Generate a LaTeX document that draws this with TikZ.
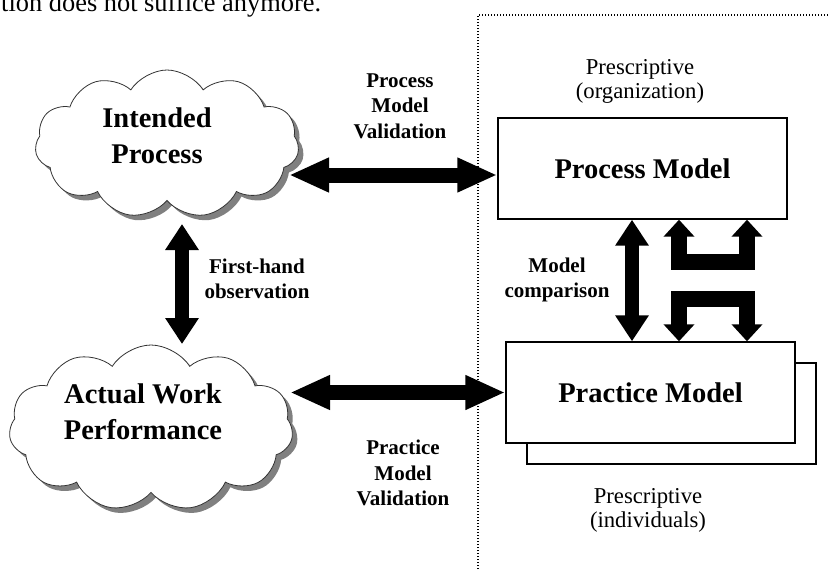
\documentclass[tikz,border=0pt]{standalone}
\usepackage{fontspec}
\setmainfont{Liberation Serif}
\usetikzlibrary{shapes.symbols,shadows,arrows.meta}
\begin{document}
\begin{tikzpicture}[x=1pt,y=-1pt,
  cloudnode/.style={cloud, cloud puffs=11, cloud puff arc=115, cloud ignores aspect,
    draw=black!80, line width=0.8pt, fill=white,
    drop shadow={shadow xshift=5pt, shadow yshift=-5pt, fill=black!50, opacity=1}},
  boxnode/.style={draw, line width=1.4pt, fill=white, minimum width=289pt,
    minimum height=101pt, inner sep=0pt},
  bigfont/.style={font=\bfseries\fontsize{28.5}{36}\selectfont, align=center},
  lblfont/.style={font=\bfseries\fontsize{21}{25.5}\selectfont, align=center},
  presc/.style={font=\fontsize{22.7}{24}\selectfont, align=center},
  harrow/.style={line width=15pt, {Triangle[length=40pt,width=32pt]}-{Triangle[length=40pt,width=32pt]}},
  varrow/.style={line width=14pt, {Triangle[length=26pt,width=32pt]}-{Triangle[length=26pt,width=32pt]}},
  uarrow/.style={line width=16pt, line join=miter, {Triangle[length=17pt,width=30pt]}-{Triangle[length=17pt,width=30pt]}},
  sepline/.style={line width=1.3pt, dash pattern=on 1.3pt off 1.7pt}
]
\useasboundingbox (0,0) rectangle (830,570);
\clip (0,0) rectangle (830,570);

% cropped body text line
\node[anchor=base west, font=\fontsize{26.4}{30}\selectfont, inner sep=0pt] (toptext) at (1,12) {tion does not suffice anymore.};

% separator
\coordinate (dA) at (478,575);
\coordinate (dB) at (840,15);
\draw[sepline] (dA) |- (dB);

% clouds
\node[cloudnode, minimum width=264pt, minimum height=148pt] (ip) at (167,144) {};
\node[bigfont] (ipt) at (157,136) {Intended\\Process};
\node[cloudnode, minimum width=284pt, minimum height=166pt] (aw) at (151,428) {};
\node[bigfont] (awt) at (143,412) {Actual Work\\Performance};

% boxes
\node[boxnode, bigfont] (pm) at (642.5,168.5) {Process Model};
\node[boxnode] (prb) at (671.5,413.5) {};
\node[boxnode, bigfont] (pr) at (650.5,392.5) {Practice Model};

% arrows
\coordinate (ipR) at (289,175);
\draw[harrow] (ipR) -- (ipR -| pm.west);
\coordinate (awR) at (290,392.5);
\draw[harrow] (awR) -- (awR -| pr.west);
\coordinate (ipB) at (182,224);
\coordinate (awT) at (182,344);
\draw[varrow] (ipB) -- (awT);
\coordinate (mcx) at (632,0);
\draw[varrow] (pm.south -| mcx) -- (pr.north -| mcx);
\coordinate (u1) at (679,0);
\coordinate (u2) at (747,0);
\draw[uarrow] (pm.south -| u1) -- (679,262) -- (747,262) -- (pm.south -| u2);
\draw[uarrow] (pr.north -| u1) -- (679,298.5) -- (747,298.5) -- (pr.north -| u2);

% labels
\node[lblfont] (pmv) at (400,106) {Process\\Model\\Validation};
\node[lblfont] (fho) at (257,279) {First-hand\\observation};
\node[lblfont] (prv) at (403,473) {Practice\\Model\\Validation};
\node[lblfont] (mc) at (557,280) {Model\\comparison};
\node[presc] (po) at (640,81) {Prescriptive\\(organization)};
\node[presc] (pi) at (648,510) {Prescriptive\\(individuals)};
\end{tikzpicture}
\end{document}
